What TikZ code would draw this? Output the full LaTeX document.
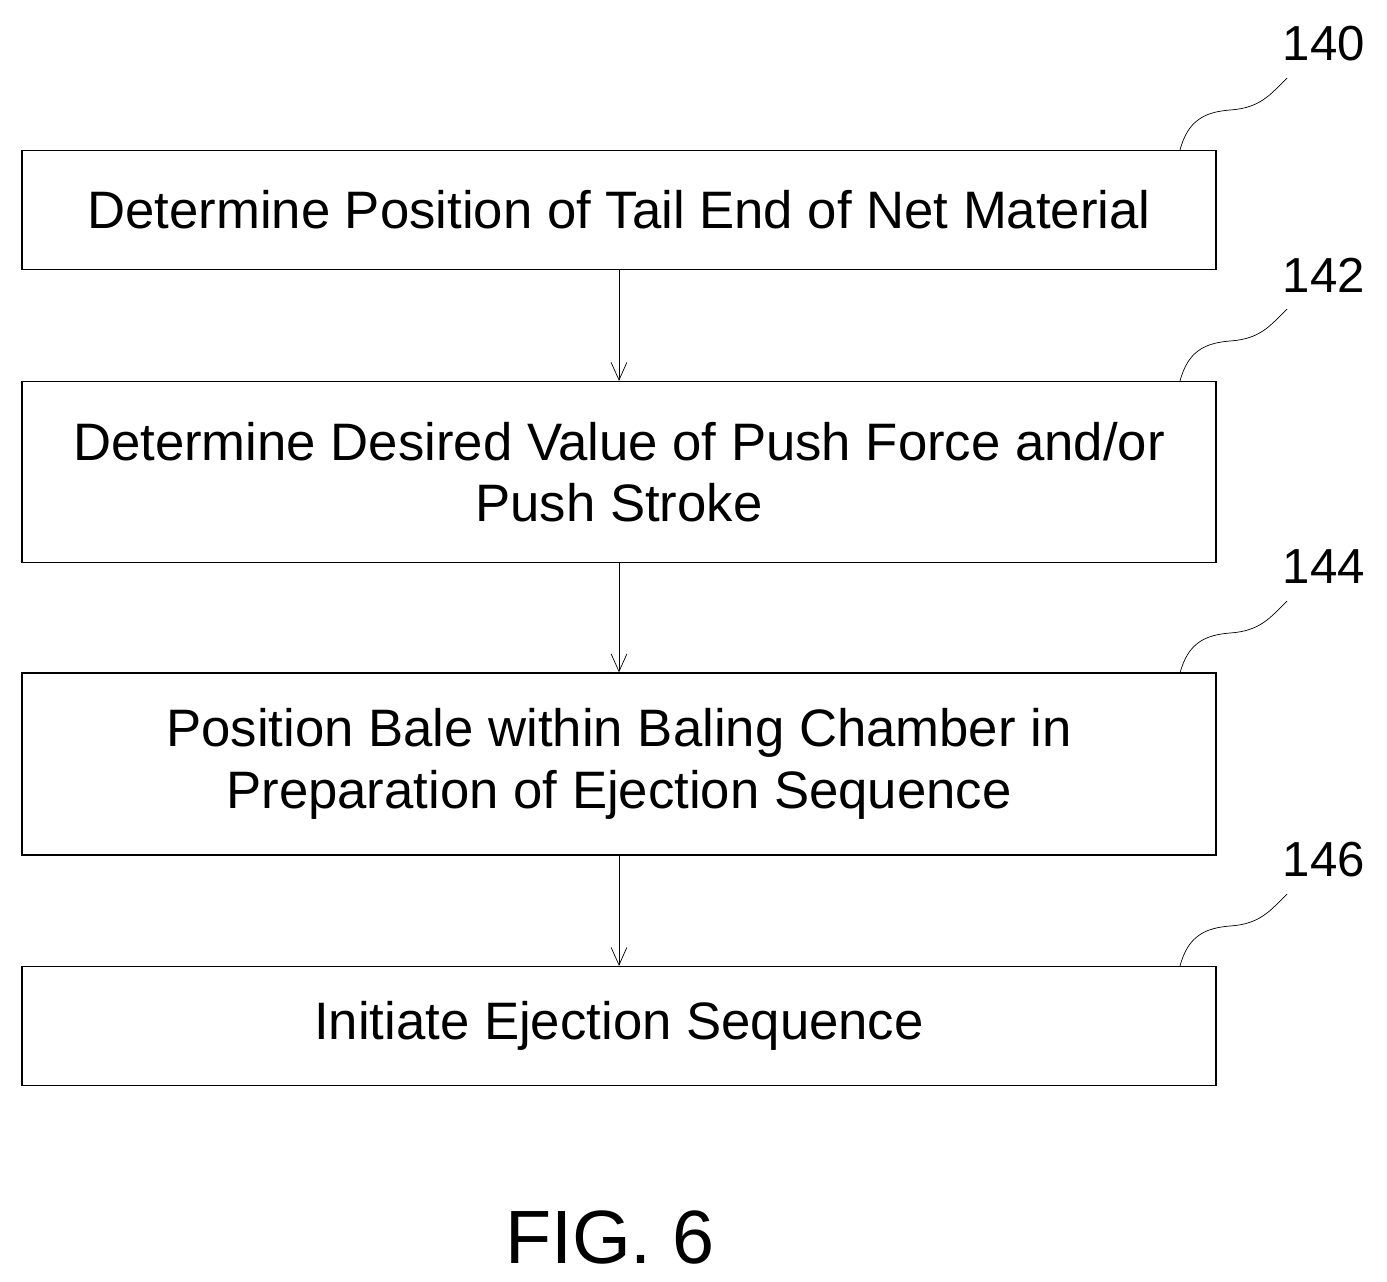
\documentclass[tikz,border=0pt]{standalone}
\usepackage{fontspec}
\setmainfont{Liberation Sans}
\usetikzlibrary{arrows.meta}
\begin{document}
\begin{tikzpicture}[x=0.02cm,y=-0.02cm,
  flowstep/.style={draw,thick,minimum width=23.88cm,align=center,font=\fontsize{30}{35}\selectfont},
  flow/.style={-{Straight Barb[length=10pt,width=9pt]}},
  lead/.style={thin}]
\useasboundingbox (0,0) rectangle (1387,1282);

% steps
\node[flowstep,minimum height=2.38cm] (s140) at (619,210) {Determine Position of Tail End of Net Material};
\node[flowstep,minimum height=3.62cm] (s142) at (619,472) {Determine Desired Value of Push Force and/or\\Push Stroke};
\node[flowstep,minimum height=3.64cm] (s144) at (619,764) {Position Bale within Baling Chamber in\\Preparation of Ejection Sequence};
\node[flowstep,minimum height=2.38cm] (s146) at (619,1026) {Initiate Ejection Sequence};

% arrows
\draw[flow] (s140) -- (s142);
\draw[flow] (s142) -- (s144);
\draw[flow] (s144) -- (s146);

% reference numerals
\foreach \n/\y in {140/150,142/381,144/673,146/966}{
  \coordinate (c\n) at (1180,\y);
  \node[font=\fontsize{28}{32}\selectfont] (l\n) at (1324,\y-106) {\n};
  \draw[lead] (c\n) .. controls (1188,\y-30) and (1205,\y-38) .. (1230,\y-40)
    .. controls (1260,\y-42) and (1270,\y-55) .. (1287,\y-72);
}

\node[font=\fontsize{43}{50}\selectfont] (fig) at (610,1237) {FIG. 6};
\end{tikzpicture}
\end{document}
